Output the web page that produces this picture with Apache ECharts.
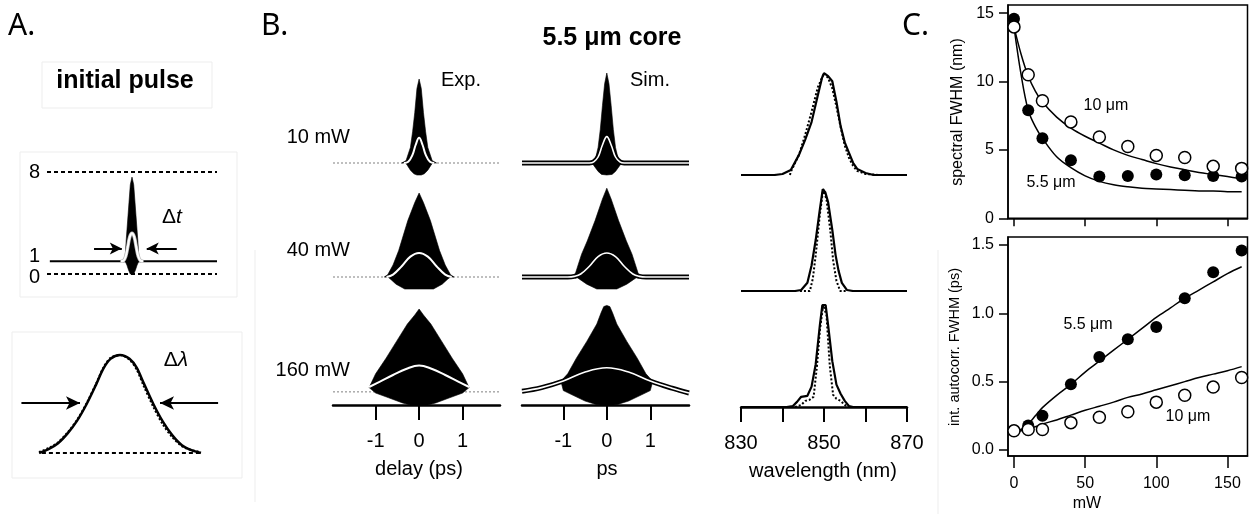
<!DOCTYPE html>
<html><head><meta charset="utf-8">
<script src="https://cdn.jsdelivr.net/npm/echarts@6/dist/echarts.min.js"></script>
<style>html,body{margin:0;padding:0;background:#fff;}#c{width:1249px;height:514px;}</style>
</head><body><div id="c"></div>
<script>
// ---------------- DATA ----------------
// Panel A: initial pulse
const aLevelTicks = [0, 1, 8];
const aLevels = [0, 8];
const aBaseline = [[-1.45, 1], [1.5, 1]];
const aUpper = [[-0.15,1],[-0.12,1.4],[-0.1,2.8],[-0.07,4.6],[-0.05,5.8],[-0.03,7.0],[0,7.6],[0.03,7.0],[0.05,5.8],[0.07,4.6],[0.1,2.8],[0.12,1.4],[0.15,1]];
const aLower = [[-0.15,1],[-0.12,1],[-0.09,0.7],[-0.06,0.3],[-0.03,0],[0,0],[0.03,0],[0.06,0.3],[0.09,0.7],[0.12,1],[0.15,1]];
const aIntensity = [[-0.2,1],[-0.15,1.05],[-0.11,1.4],[-0.08,2.0],[-0.04,2.9],[0,3.2],[0.04,2.9],[0.08,2.0],[0.11,1.4],[0.15,1.05],[0.2,1]];
const aDtArrows = [[-0.67, -0.18], [0.79, 0.26]];
const aDtArrowLevel = 2.0;
const aSpecExp = [[833,0],[835,0.04],[837,0.1],[839,0.2],[841,0.33],[843,0.5],[845,0.7],[846.5,0.86],[848,0.96],[850,1.0],[852,0.96],[853.5,0.87],[855,0.71],[857,0.5],[859,0.32],[861,0.18],[863,0.08],[865,0.03],[867,0]];
const aSpecSim = [[833,0.01],[835,0.05],[837,0.11],[839,0.21],[841,0.34],[843,0.51],[845,0.71],[846.5,0.87],[848,0.97],[850,1.0],[852,0.95],[853.5,0.85],[855,0.68],[857,0.47],[859,0.29],[861,0.16],[863,0.07],[865,0.03],[867,0.01]];
const aSpecBase = [[833.6,0],[867.2,0]];
const aDlArrows = [[829.3, 841.6], [870.6, 858.4]];
const aDlArrowLevel = 0.51;

// Panel B
const powerLabels = ['10 mW', '40 mW', '160 mW'];
const delayTicks = [-1, 0, 1];
const wlTicks = [830, 840, 850, 860, 870];
const wlLabels = [830, 850, 870];
const expBase = [1, 1, 1.1];

const exp10Upper = [[-0.4,1],[-0.3,1.2],[-0.2,2.3],[-0.15,3.6],[-0.1,5.2],[-0.05,7.2],[0,8],[0.05,7.2],[0.1,5.2],[0.15,3.6],[0.2,2.3],[0.3,1.2],[0.4,1]];
const exp10Lower = [[-0.4,1],[-0.31,1],[-0.27,0.8],[-0.2,0.4],[-0.12,0.1],[-0.05,0],[0,0],[0.05,0],[0.12,0.1],[0.2,0.4],[0.27,0.8],[0.31,1],[0.4,1]];
const exp10White = [[-0.35,1],[-0.25,1.1],[-0.15,1.7],[-0.08,2.5],[0,3.1],[0.08,2.5],[0.15,1.7],[0.25,1.1],[0.35,1]];
const exp40Upper = [[-0.8,1],[-0.72,1.2],[-0.6,2],[-0.47,3.2],[-0.26,5.7],[-0.1,7.2],[0,8],[0.1,7.2],[0.26,5.7],[0.47,3.2],[0.6,2],[0.72,1.2],[0.8,1]];
const exp40Lower = [[-0.8,1],[-0.72,1],[-0.65,0.8],[-0.53,0.4],[-0.33,0],[0,0],[0.33,0],[0.53,0.4],[0.65,0.8],[0.72,1],[0.8,1]];
const exp40White = [[-0.75,1],[-0.6,1.2],[-0.4,1.9],[-0.2,2.7],[0,3],[0.2,2.7],[0.4,1.9],[0.6,1.2],[0.75,1]];
const exp160Upper = [[-1.15,1.45],[-1.0,2.6],[-0.76,3.9],[-0.52,5.3],[-0.27,6.75],[-0.1,7.5],[0,8],[0.1,7.5],[0.27,6.75],[0.52,5.3],[0.76,3.9],[1.0,2.6],[1.15,1.45]];
const exp160Lower = [[-1.15,1.45],[-1.0,1.0],[-0.7,0.6],[-0.38,0.17],[-0.2,0],[0,0],[0.2,0],[0.38,0.17],[0.7,0.6],[1.0,1.0],[1.15,1.45]];
const exp160White = [[-1.15,1.5],[-0.9,1.95],[-0.6,2.5],[-0.3,3.0],[0,3.3],[0.3,3.0],[0.6,2.5],[0.9,1.95],[1.15,1.5]];

const sim10Upper = [[-0.35,1],[-0.27,1.2],[-0.2,2.3],[-0.15,3.8],[-0.1,5.8],[-0.05,7.6],[0,8.5],[0.05,7.6],[0.1,5.8],[0.15,3.8],[0.2,2.3],[0.27,1.2],[0.35,1]];
const sim10Lower = [[-0.35,1],[-0.3,0.8],[-0.2,0.3],[-0.12,0.05],[0,0],[0.12,0.05],[0.2,0.3],[0.3,0.8],[0.35,1]];
const sim10White = [[-1.95,1],[-0.4,1],[-0.3,1.1],[-0.2,1.5],[-0.1,2.5],[0,3.2],[0.1,2.5],[0.2,1.5],[0.3,1.1],[0.4,1],[1.89,1]];
const sim40Upper = [[-0.78,1],[-0.73,1.2],[-0.66,2.0],[-0.58,2.9],[-0.45,4.0],[-0.27,5.7],[-0.1,7.5],[0,8.4],[0.1,7.5],[0.27,5.7],[0.45,4.0],[0.58,2.9],[0.66,2.0],[0.73,1.2],[0.78,1]];
const sim40Lower = [[-0.78,1],[-0.7,1],[-0.62,0.8],[-0.46,0.4],[-0.23,0],[0,0],[0.23,0],[0.46,0.4],[0.62,0.8],[0.7,1],[0.78,1]];
const sim40White = [[-1.95,1],[-0.9,1],[-0.75,1.05],[-0.6,1.25],[-0.4,1.9],[-0.2,2.7],[0,3],[0.2,2.7],[0.4,1.9],[0.6,1.25],[0.75,1.05],[0.9,1],[1.89,1]];
const sim160Upper = [[-1.05,1.9],[-1.0,2.2],[-0.9,2.6],[-0.7,3.9],[-0.46,5.3],[-0.23,6.75],[-0.13,7.7],[-0.07,8.2],[0,8.3],[0.07,8.2],[0.13,7.7],[0.23,6.75],[0.46,5.3],[0.7,3.9],[0.9,2.6],[1.0,2.2],[1.05,1.9]];
const sim160Lower = [[-1.05,1.9],[-1.0,1.2],[-0.8,0.85],[-0.5,0.33],[-0.25,0.05],[-0.15,0],[0,0],[0.15,0],[0.25,0.05],[0.5,0.33],[0.8,0.85],[1.0,1.2],[1.05,1.9]];
const sim160White = [[-1.95,1.15],[-1.5,1.45],[-1.0,2.0],[-0.5,2.75],[0,3.1],[0.5,2.75],[1.0,2.0],[1.5,1.4],[1.89,1.0]];

const spec10Exp = [[830,0],[838,0],[840,0.01],[842,0.05],[844,0.2],[845.5,0.35],[847,0.52],[848.5,0.78],[849.5,0.95],[850,1.0],[851,0.97],[852,0.92],[853,0.72],[854,0.48],[855,0.32],[856,0.22],[857,0.12],[858,0.06],[860,0.02],[862,0],[870,0]];
const spec10Sim = [[841.8,0],[842,0.03],[844,0.2],[845.5,0.4],[847,0.62],[848.5,0.86],[850,1.0],[851,0.95],[852,0.85],[853,0.67],[854,0.47],[855,0.29],[856,0.17],[857,0.09],[858,0.04],[860,0.01],[863.5,0]];
const spec40Exp = [[830,0],[843,0],[844.5,0.01],[846,0.08],[847,0.25],[848,0.5],[849,0.8],[849.7,1.0],[850.3,0.97],[851,0.87],[852,0.6],[852.8,0.35],[853.5,0.2],[854.3,0.08],[855.5,0.01],[857,0],[870,0]];
const spec40Sim = [[844.2,0],[846.6,0],[847.3,0.12],[848,0.35],[849,0.75],[849.8,1.0],[850.6,0.9],[851.5,0.6],[852.2,0.3],[853,0.1],[853.9,0],[855.5,0]];
const spec160Exp = [[830,0],[841,0],[842.5,0.01],[843.5,0.05],[844.5,0.1],[846,0.11],[847,0.2],[848,0.42],[849,0.8],[849.6,1.0],[850.4,1.0],[851,0.8],[852,0.45],[853,0.22],[854,0.13],[855,0.06],[856,0.01],[857,0],[870,0]];
const spec160Sim = [[843,0],[844.5,0.02],[845.5,0.06],[846.5,0.07],[847.5,0.1],[848.3,0.4],[849,0.75],[849.8,1.0],[850.6,0.9],[851.4,0.4],[852.2,0.12],[853,0.08],[854,0.06],[855,0.02],[856,0]];

// Panel C
const powerTicks = [0, 50, 100, 150];
const specTicks = [0, 5, 10, 15];
const acTicks = [0, 0.5, 1.0, 1.5];
const powers = [0, 10, 20, 40, 60, 80, 100, 120, 140, 160];
const specFwhm55 = [14.6, 7.9, 5.85, 4.25, 3.05, 3.1, 3.2, 3.15, 3.1, 3.05];
const specFwhm10 = [14.0, 10.5, 8.6, 7.05, 5.95, 5.25, 4.6, 4.45, 3.8, 3.65];
const acFwhm55 = [0.14, 0.18, 0.25, 0.48, 0.68, 0.81, 0.90, 1.11, 1.30, 1.46];
const acFwhm10 = [0.14, 0.15, 0.15, 0.20, 0.24, 0.28, 0.35, 0.40, 0.46, 0.53];
const fitPowers = [0, 5, 10, 15, 20, 30, 40, 50, 60, 70, 80, 90, 100, 110, 120, 130, 140, 150, 160];
const specFit10 = [14, 12.0, 10.4, 9.3, 8.5, 7.4, 6.6, 6.0, 5.5, 5.0, 4.6, 4.3, 4.0, 3.75, 3.55, 3.35, 3.2, 3.05, 2.9];
const specFit55 = [14, 10.5, 7.9, 6.7, 5.85, 4.5, 3.7, 3.1, 2.7, 2.45, 2.3, 2.2, 2.15, 2.1, 2.05, 2.0, 2.0, 1.95, 1.95];
const acFit55 = [0.14, 0.15, 0.19, 0.25, 0.31, 0.40, 0.48, 0.57, 0.65, 0.73, 0.81, 0.89, 0.97, 1.04, 1.11, 1.17, 1.23, 1.29, 1.34];
const acFit10 = [0.13, 0.14, 0.155, 0.17, 0.19, 0.22, 0.255, 0.29, 0.32, 0.35, 0.385, 0.41, 0.44, 0.47, 0.50, 0.53, 0.555, 0.58, 0.61];

// ---------------- BUILD ----------------
const FF = "'Liberation Sans', Arial, Helvetica, sans-serif";
const grids = [], xAxis = [], yAxis = [], series = [], graphic = [];
function addGrid(box, xa, ya) {
  const i = grids.length;
  grids.push(Object.assign({show: false, containLabel: false}, box));
  xAxis.push(Object.assign({type: 'value', gridIndex: i, show: false, splitLine: {show: false}}, xa));
  yAxis.push(Object.assign({type: 'value', gridIndex: i, show: false, splitLine: {show: false}}, ya));
  return i;
}
function ln(gi, data, extra) {
  series.push(Object.assign({type: 'line', xAxisIndex: gi, yAxisIndex: gi, data: data, symbol: 'none',
    silent: true, animation: false}, extra));
}
function span(gi, lvl) { return [[xAxis[gi].min, lvl], [xAxis[gi].max, lvl]]; }
function pairs(xs, ys) { return xs.map((x, i) => [x, ys[i]]); }
function arrows(list, lvl, size) {
  return {silent: true, animation: false, symbol: ['none', 'arrow'], symbolSize: size,
    lineStyle: {color: '#000', width: 2, type: 'solid'}, label: {show: false},
    emphasis: {disabled: true},
    data: list.map(a => [{coord: [a[0], lvl]}, {coord: [a[1], lvl]}])};
}
const black = '#000';
// filled fringe region between the lower and upper envelopes (one polygon through the axes' scales)
function envelope(gi, up, lo) {
  const poly = up.concat(lo.slice().reverse());
  series.push({type: 'custom', xAxisIndex: gi, yAxisIndex: gi, data: poly, silent: true, animation: false, z: 2,
    encode: {x: 0, y: 1},
    renderItem: function (params, api) {
      if (params.dataIndex !== 0) return null;
      return {type: 'polygon', shape: {points: poly.map(p => api.coord(p))},
        style: {fill: black, stroke: black, lineWidth: 0.6}};
    }});
}

// Panel A top
const gAt = addGrid({left: 47, top: 168.2, width: 170, height: 105.8}, {min: -1.5, max: 1.5},
  {min: 0, max: 8.3, show: true, axisLine: {show: false}, axisTick: {show: false},
   axisLabel: {customValues: aLevelTicks, margin: 7, color: black,
     formatter: v => v === 1 ? '{u|1}' : (v === 0 ? '{d|0}' : '{n|' + v + '}'),
     rich: {u: {fontSize: 20, fontFamily: FF, color: black, padding: [0, 0, 10, 0]},
            d: {fontSize: 20, fontFamily: FF, color: black, padding: [6, 0, 0, 0]},
            n: {fontSize: 20, fontFamily: FF, color: black}}}});
aLevels.forEach(l => ln(gAt, span(gAt, l), {lineStyle: {color: black, width: 2, type: [4, 3]}, z: 1}));
ln(gAt, aBaseline, {lineStyle: {color: black, width: 2}, z: 1, markLine: arrows(aDtArrows, aDtArrowLevel, [9, 12])});
envelope(gAt, aUpper, aLower);
ln(gAt, aIntensity, {smooth: 0.4, lineStyle: {color: '#bbb', width: 3.5}, z: 4});
ln(gAt, aIntensity, {smooth: 0.4, lineStyle: {color: '#fff', width: 2}, z: 5});

// Panel A bottom
const gAb = addGrid({left: 20, top: 352, width: 200, height: 101}, {min: 829, max: 871}, {min: 0, max: 1.03});
ln(gAb, aSpecBase, {lineStyle: {color: black, width: 2, type: [4, 3]}, z: 1,
  markLine: arrows(aDlArrows, aDlArrowLevel, [10, 14])});
ln(gAb, aSpecExp, {smooth: 0.3, lineStyle: {color: black, width: 2.5}, z: 2});
ln(gAb, aSpecSim, {smooth: 0.3, lineStyle: {color: black, width: 2, type: [2, 2]}, z: 3});

// Panel B time traces
const rowZero = [175, 289, 405];
const expSets = [[exp10Upper, exp10Lower, exp10White], [exp40Upper, exp40Lower, exp40White], [exp160Upper, exp160Lower, exp160White]];
const simSets = [[sim10Upper, sim10Lower, sim10White], [sim40Upper, sim40Lower, sim40White], [sim160Upper, sim160Lower, sim160White]];
function timeAxis(min, max, bottom) {
  const a = {min: min, max: max};
  if (bottom) Object.assign(a, {show: true, z: 10,
    axisLine: {onZero: false, lineStyle: {color: black, width: 2.5}},
    axisTick: {customValues: delayTicks, length: 15, lineStyle: {color: black, width: 2}},
    axisLabel: {customValues: delayTicks, fontSize: 20, fontFamily: FF, color: black, margin: 26}});
  return a;
}
for (let r = 0; r < 3; r++) {
  const ge = addGrid({left: 333, top: rowZero[r] - 108, width: 167, height: 108}, timeAxis(-1.98, 1.86, r === 2), {min: 0, max: 9});
  ln(ge, span(ge, expBase[r]), {lineStyle: {color: '#aaa', width: 1.5, type: [2, 2]}, z: 1});
  envelope(ge, expSets[r][0], expSets[r][1]);
  ln(ge, expSets[r][2], {smooth: 0.4, lineStyle: {color: '#fff', width: 2}, z: 5});
  const gs = addGrid({left: 522, top: rowZero[r] - 108, width: 167, height: 108}, timeAxis(-1.95, 1.89, r === 2), {min: 0, max: 9});
  envelope(gs, simSets[r][0], simSets[r][1]);
  ln(gs, simSets[r][2], {smooth: 0.4, lineStyle: {color: black, width: 5}, z: 4});
  ln(gs, simSets[r][2], {smooth: 0.4, lineStyle: {color: '#fff', width: 1.6}, z: 5});
}
// Panel B spectra
const specZero = [175, 291, 407];
const specSets = [[spec10Exp, spec10Sim], [spec40Exp, spec40Sim], [spec160Exp, spec160Sim]];
for (let r = 0; r < 3; r++) {
  const xa = {min: 830, max: 870};
  if (r === 2) Object.assign(xa, {show: true, z: 10,
    axisLine: {onZero: false, lineStyle: {color: black, width: 2.5}},
    axisTick: {customValues: wlTicks, length: 15, lineStyle: {color: black, width: 2}},
    axisLabel: {customValues: wlLabels, fontSize: 20, fontFamily: FF, color: black, margin: 26}});
  const g = addGrid({left: 741, top: specZero[r] - 107, width: 166, height: 107}, xa, {min: 0, max: 1.05});
  ln(g, specSets[r][0], {lineStyle: {color: black, width: 2.2}, z: 3});
  ln(g, specSets[r][1], {lineStyle: {color: black, width: 2, type: [2, 2]}, z: 4});
}

// Panel C
function cAxes(labels, tickLen) {
  return {show: true, axisLine: {onZero: false, lineStyle: {color: black, width: 1.5}},
    axisTick: {customValues: powerTicks, length: tickLen, lineStyle: {color: black, width: 1.5}},
    axisLabel: labels ? {customValues: powerTicks, fontSize: 16, fontFamily: FF, color: black, margin: 20} : {show: false}};
}
const gCt = addGrid({left: 1008, top: 5, width: 239.5, height: 213.3, show: true, borderColor: black, borderWidth: 1.5},
  Object.assign({min: -4.2, max: 164.1}, cAxes(false, 8)),
  {min: 0, max: 15.6, show: true, axisLine: {onZero: false, lineStyle: {color: black, width: 1.5}},
   axisTick: {customValues: specTicks, length: 9, lineStyle: {color: black, width: 1.5}},
   axisLabel: {customValues: specTicks, fontSize: 16, fontFamily: FF, color: black, margin: 14}});
const gCb = addGrid({left: 1008, top: 237, width: 239.5, height: 219, show: true, borderColor: black, borderWidth: 1.5},
  Object.assign({min: -4.2, max: 164.1}, cAxes(true, 12)),
  {min: -0.044, max: 1.558, show: true, axisLine: {onZero: false, lineStyle: {color: black, width: 1.5}},
   axisTick: {customValues: acTicks, length: 9, lineStyle: {color: black, width: 1.5}},
   axisLabel: {customValues: acTicks, fontSize: 16, fontFamily: FF, color: black, margin: 14, formatter: v => v.toFixed(1)}});
function cPlot(g, fitA, fitB, filled, open) {
  ln(g, pairs(fitPowers, fitA), {smooth: 0.35, lineStyle: {color: black, width: 1.5}, z: 3});
  ln(g, pairs(fitPowers, fitB), {smooth: 0.35, lineStyle: {color: black, width: 1.5}, z: 3});
  series.push({type: 'scatter', xAxisIndex: g, yAxisIndex: g, data: pairs(powers, filled), symbol: 'circle', symbolSize: 12,
    itemStyle: {color: black, opacity: 1}, silent: true, animation: false, z: 5});
  series.push({type: 'scatter', xAxisIndex: g, yAxisIndex: g, data: pairs(powers, open), symbol: 'circle', symbolSize: 12,
    itemStyle: {color: '#fff', borderColor: black, borderWidth: 1.5, opacity: 1}, silent: true, animation: false, z: 6});
}
cPlot(gCt, specFit10, specFit55, specFwhm55, specFwhm10);
cPlot(gCb, acFit55, acFit10, acFwhm55, acFwhm10);

// Text
function txt(x, y, text, o) {
  graphic.push({type: 'text', x: x, y: y, silent: true, z: 20, rotation: (o && o.rot) || 0,
    style: Object.assign({text: text, fontFamily: FF, fontSize: 20, fill: black, align: 'center', verticalAlign: 'middle'}, o && o.s)});
}
function box(x, y, w, h) {
  graphic.push({type: 'rect', silent: true, z: -10, shape: {x: x, y: y, width: w, height: h}, style: {fill: 'none', stroke: '#ededed', lineWidth: 1}});
}
box(42, 62, 170, 46); box(20, 152, 217, 145); box(12, 332, 230, 146);
graphic.push({type: 'line', silent: true, z: -10, shape: {x1: 255, y1: 250, x2: 255, y2: 502}, style: {stroke: '#ededed', lineWidth: 1}});
graphic.push({type: 'line', silent: true, z: -10, shape: {x1: 938, y1: 250, x2: 938, y2: 514}, style: {stroke: '#ededed', lineWidth: 1}});

const PF = "'Noto Sans', 'Open Sans', sans-serif";
txt(8, 26, 'A.', {s: {fontFamily: PF, fontSize: 30, align: 'left'}});
txt(261, 26, 'B.', {s: {fontFamily: PF, fontSize: 30, align: 'left'}});
txt(902, 26, 'C.', {s: {fontFamily: PF, fontSize: 30, align: 'left'}});
txt(125, 81, 'initial pulse', {s: {fontSize: 25, fontWeight: 'bold'}});
txt(612, 38, '5.5 \u03bcm core', {s: {fontSize: 25, fontWeight: 'bold'}});
txt(172, 217, '{a|\u0394}{b|t}', {s: {rich: {a: {fontSize: 21, fontFamily: FF, fill: black}, b: {fontSize: 21, fontFamily: FF, fontStyle: 'italic', fill: black}}}});
txt(176, 360, '{a|\u0394}{b|\u03bb}', {s: {rich: {a: {fontSize: 21, fontFamily: FF, fill: black}, b: {fontSize: 21, fontFamily: FF, fontStyle: 'italic', fill: black}}}});
txt(461, 80, 'Exp.');
txt(650, 80, 'Sim.');
const rowLabelY = [137, 250, 370];
powerLabels.forEach((t, i) => txt(350, rowLabelY[i], t, {s: {align: 'right'}}));
txt(419, 469, 'delay (ps)');
txt(607, 469, 'ps');
txt(823, 471, 'wavelength (nm)');
txt(1087, 504, 'mW', {s: {fontSize: 16}});
txt(958, 112, 'spectral FWHM (nm)', {rot: Math.PI / 2, s: {fontSize: 16}});
txt(955, 347, 'int. autocorr. FWHM (ps)', {rot: Math.PI / 2, s: {fontSize: 14.5}});
txt(1106, 106, '10 \u03bcm', {s: {fontSize: 16}});
txt(1051, 183, '5.5 \u03bcm', {s: {fontSize: 16}});
txt(1088, 325, '5.5 \u03bcm', {s: {fontSize: 16}});
txt(1188, 417, '10 \u03bcm', {s: {fontSize: 16}});

const chart = echarts.init(document.getElementById('c'), null, {renderer: 'canvas'});
chart.setOption({animation: false, backgroundColor: '#fff', grid: grids, xAxis: xAxis, yAxis: yAxis, series: series, graphic: graphic});
</script></body></html>
